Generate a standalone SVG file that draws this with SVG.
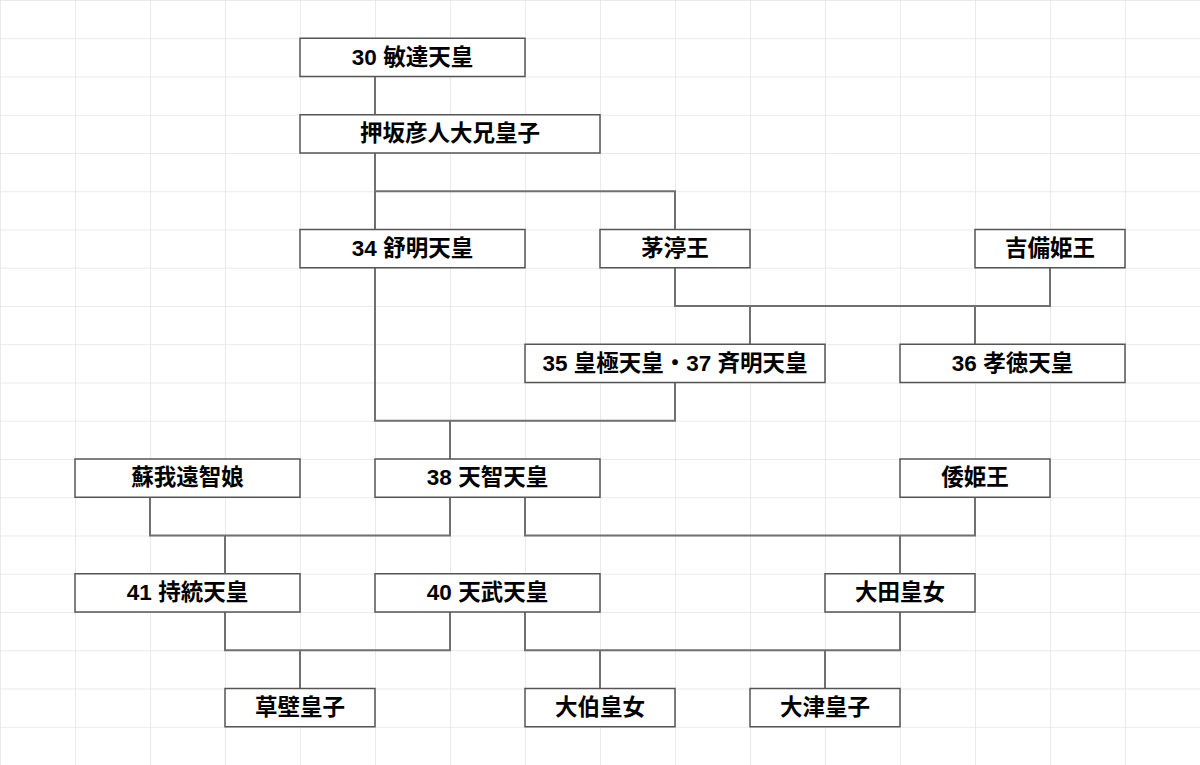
<svg xmlns="http://www.w3.org/2000/svg" width="1200" height="765" viewBox="0 0 1200 765">
<defs>
<pattern id="grid" width="75" height="38.25" patternUnits="userSpaceOnUse">
<path d="M0 0H75M0 0V38.25" fill="none" stroke="#e4e4e4" stroke-width="1.5"/>
</pattern>
</defs>
<style>
.box{fill:#fff;stroke:#555;stroke-width:1.5}
.t{font-family:"Liberation Sans","Noto Sans CJK JP",sans-serif;font-size:22.5px;font-weight:bold;fill:#000;text-anchor:middle;dominant-baseline:central}
.c{fill:none;stroke:#707070;stroke-width:2}
</style>
<rect width="1200" height="765" fill="#fff"/>
<rect width="1200" height="765" fill="url(#grid)"/>
<g id="connectors">
<path class="c" d="M375 76.5V114.75"/>
<path class="c" d="M375 153V229.5M375 191.25H675V229.5"/>
<path class="c" d="M675 267.75V306H1050V267.75M750 306V344.25M975 306V344.25"/>
<path class="c" d="M375 267.75V420.75H675V382.5M450 420.75V459"/>
<path class="c" d="M150 497.25V535.5H450V497.25M225 535.5V573.75"/>
<path class="c" d="M525 497.25V535.5H975V497.25M900 535.5V573.75"/>
<path class="c" d="M225 612V650.25H450V612M300 650.25V688.5"/>
<path class="c" d="M525 612V650.25H900V612M600 650.25V688.5M825 650.25V688.5"/>
</g>
<g id="n30"><rect class="box" x="300" y="38.25" width="225" height="38.25"/><text class="t" x="412.5" y="57">30 敏達天皇</text></g>
<g id="oshisaka"><rect class="box" x="300" y="114.75" width="300" height="38.25"/><text class="t" x="450" y="133.5">押坂彦人大兄皇子</text></g>
<g id="n34"><rect class="box" x="300" y="229.5" width="225" height="38.25"/><text class="t" x="412.5" y="248.2">34 舒明天皇</text></g>
<g id="chinu"><rect class="box" x="600" y="229.5" width="150" height="38.25"/><text class="t" x="675" y="248.2">茅渟王</text></g>
<g id="kibi"><rect class="box" x="975" y="229.5" width="150" height="38.25"/><text class="t" x="1050" y="248.2">吉備姫王</text></g>
<g id="n35"><rect class="box" x="525" y="344.25" width="300" height="38.25"/><text class="t" x="675" y="363">35 皇極天皇・37 斉明天皇</text></g>
<g id="n36"><rect class="box" x="900" y="344.25" width="225" height="38.25"/><text class="t" x="1012.5" y="363">36 孝徳天皇</text></g>
<g id="ochi"><rect class="box" x="75" y="459" width="225" height="38.25"/><text class="t" x="187.5" y="477.7">蘇我遠智娘</text></g>
<g id="n38"><rect class="box" x="375" y="459" width="225" height="38.25"/><text class="t" x="487.5" y="477.7">38 天智天皇</text></g>
<g id="yamato"><rect class="box" x="900" y="459" width="150" height="38.25"/><text class="t" x="975" y="477.7">倭姫王</text></g>
<g id="n41"><rect class="box" x="75" y="573.75" width="225" height="38.25"/><text class="t" x="187.5" y="592.5">41 持統天皇</text></g>
<g id="n40"><rect class="box" x="375" y="573.75" width="225" height="38.25"/><text class="t" x="487.5" y="592.5">40 天武天皇</text></g>
<g id="ota"><rect class="box" x="825" y="573.75" width="150" height="38.25"/><text class="t" x="900" y="592.5">大田皇女</text></g>
<g id="kusakabe"><rect class="box" x="225" y="688.5" width="150" height="38.25"/><text class="t" x="300" y="707.2">草壁皇子</text></g>
<g id="oku"><rect class="box" x="525" y="688.5" width="150" height="38.25"/><text class="t" x="600" y="707.2">大伯皇女</text></g>
<g id="otsu"><rect class="box" x="750" y="688.5" width="150" height="38.25"/><text class="t" x="825" y="707.2">大津皇子</text></g>
</svg>
